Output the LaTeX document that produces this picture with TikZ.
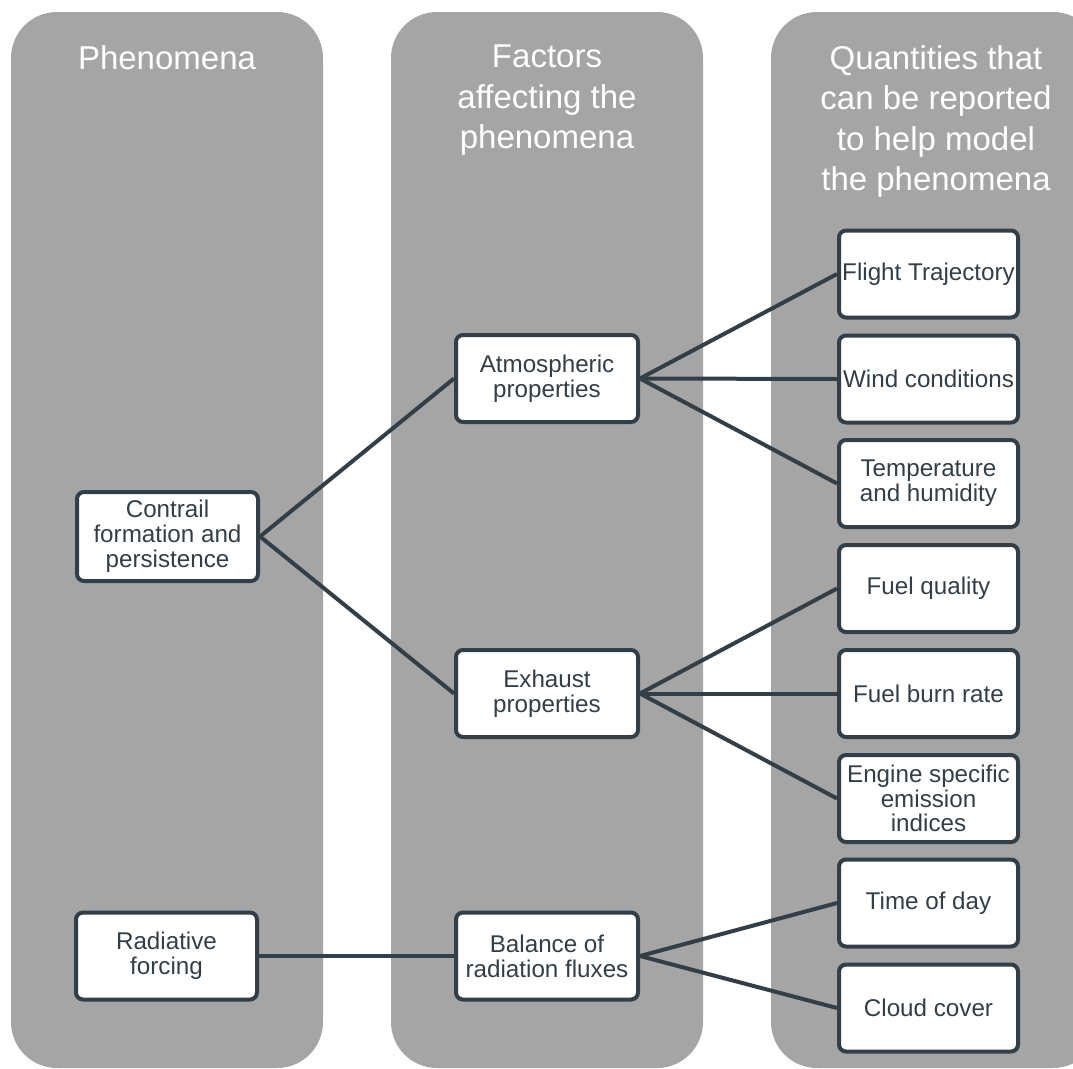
\documentclass[tikz,border=0pt]{standalone}
\usepackage{fontspec}
\setmainfont{Liberation Sans}
\definecolor{colgray}{HTML}{A5A5A5}
\definecolor{ink}{HTML}{343E47}
\begin{document}
\begin{tikzpicture}[x=1pt,y=-1pt,
  column/.style={fill=colgray, rounded corners=46pt},
  head/.style={anchor=north, inner sep=0pt, text=white, align=center,
    font=\fontsize{33}{40.5}\selectfont},
  box/.style={draw=ink, line width=4pt, fill=white, rounded corners=7pt,
    minimum height=87pt, align=center, text=ink, inner sep=2pt,
    font=\fontsize{24.2}{24.8}\selectfont},
  lbox/.style={box, minimum width=181pt},
  mbox/.style={box, minimum width=182pt},
  rbox/.style={box, minimum width=179pt},
  link/.style={draw=ink, line width=4pt}]
\useasboundingbox (0,0) rectangle (1073,1068);
\begin{scope}
  \clip (0,0) rectangle (1073,1068);
  \fill[column] (11,12) rectangle (323,1068);
  \fill[column] (391,12) rectangle (703,1068);
  \fill[column] (771,12) rectangle (1099,1068);
\end{scope}

\node[head] (h1) at (167,45) {Phenomena};
\node[head] (h2) at (547,45) {Factors\\affecting the\\phenomena};
\node[head] (h3) at (936,45) {Quantities that\\can be reported\\to help model\\the phenomena};

% left column
\node[lbox, minimum height=89pt] (contrail) at (167.5,536.5) {Contrail\\formation and\\persistence};
\node[lbox] (radiative) at (166.5,956) {Radiative\\forcing};

% middle column
\node[mbox] (atmo) at (547,378.5) {Atmospheric\\properties};
\node[mbox] (exhaust) at (547,693.5) {Exhaust\\properties};
\node[mbox] (balance) at (547,956) {Balance of\\radiation fluxes};

% right column
\node[rbox] (flight) at (928.5,274) {Flight Trajectory};
\node[rbox] (wind) at (928.5,379) {Wind conditions};
\node[rbox] (temp) at (928.5,483.5) {Temperature\\and humidity};
\node[rbox] (fuelq) at (928.5,588.5) {Fuel quality};
\node[rbox] (fuelb) at (928.5,693.5) {Fuel burn rate};
\node[rbox] (engine) at (928.5,798.5) {Engine specific\\emission\\indices};
\node[rbox] (time) at (928.5,903) {Time of day};
\node[rbox] (cloud) at (928.5,1008) {Cloud cover};

% connectors
\draw[link] (contrail.east) -- (atmo.west);
\draw[link] (contrail.east) -- (exhaust.west);
\draw[link] (radiative.east) -- (balance.west);
\draw[link] (atmo.east) -- (flight.west);
\draw[link] (atmo.east) -- (wind.west);
\draw[link] (atmo.east) -- (temp.west);
\draw[link] (exhaust.east) -- (fuelq.west);
\draw[link] (exhaust.east) -- (fuelb.west);
\draw[link] (exhaust.east) -- (engine.west);
\draw[link] (balance.east) -- (time.west);
\draw[link] (balance.east) -- (cloud.west);
\end{tikzpicture}
\end{document}
